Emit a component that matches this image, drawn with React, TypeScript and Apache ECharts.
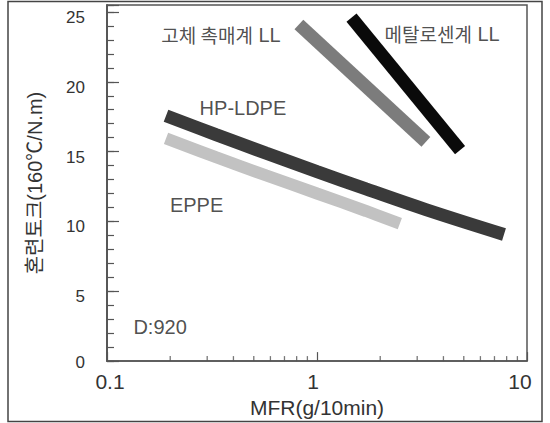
import React, { useEffect, useRef } from 'react';
import * as echarts from 'echarts';

// ---- data ----
const xMajorTicks = [0.1, 1, 10];
const xMinorTicks = [0.2, 0.3, 0.4, 0.5, 0.6, 0.7, 0.8, 0.9, 2, 3, 4, 5, 6, 7, 8, 9];
const yLabelStep = 5;
const yMinorStep = 1;

const hpLdpe = [[0.191, 17.57], [0.33, 16.22], [0.572, 14.89], [1.0, 13.57], [1.71, 12.33], [3.3, 10.85], [7.77, 9.07]];
const eppe = [[0.191, 15.95], [0.33, 14.6], [0.572, 13.3], [1.0, 12.0], [1.71, 10.75], [2.48, 9.85]];
const solidCatalystLL = [[0.82, 24.1], [3.3, 15.7]];
const metalloceneLL = [[1.46, 24.6], [4.8, 15.1]];

const annotationTexts = ['{k|고체 촉매계} {l|LL}', '{k|메탈로센계} {l|LL}', 'HP-LDPE', 'EPPE', 'D:920'];
const annotationX = [0.349, 3.94, 0.444, 0.267, 0.179];
const annotationY = [23.36, 23.43, 18.14, 11.21, 2.43];

const FONT = '"Liberation Sans Narrow", "Liberation Sans", Arial, "Noto Sans CJK KR", sans-serif';
const KFONT = '"Noto Sans CJK KR", sans-serif';

const xLab = { fontSize: 21, color: '#333', fontFamily: FONT };
const yLab = { fontSize: 17, color: '#333', fontFamily: FONT };

export default function App() {
  const ref = useRef<HTMLDivElement>(null);
  useEffect(() => {
    const chart = echarts.init(ref.current!, undefined, { renderer: 'svg' });
    const yBase = {
      type: 'value',
      min: 0,
      max: 25.5,
      position: 'left',
      offset: 0,
      splitLine: { show: false },
      axisLine: { show: true, lineStyle: { color: '#555', width: 1.5 } },
    };
    const option: any = {
      animation: false,
      backgroundColor: '#fff',
      grid: { left: 107, right: 23, top: 5, bottom: 60, show: true, borderColor: '#555', borderWidth: 1.5, backgroundColor: 'transparent' },
      graphic: [
        { type: 'rect', shape: { x: 8, y: 1.5, width: 534, height: 420 }, style: { fill: 'none', stroke: '#444', lineWidth: 1.5 }, silent: true, z: -1 },
      ],
      xAxis: {
        type: 'log',
        logBase: 10,
        min: 0.1,
        max: 10,
        splitLine: { show: false },
        axisLine: { show: true, lineStyle: { color: '#555', width: 1.5 } },
        axisTick: { inside: true, length: 9, lineStyle: { color: '#555', width: 1.2 } },
        axisLabel: {
          margin: 10,
          ...xLab,
          formatter: (v: number) => {
            if (Math.abs(v - 0.1) < 1e-9) return '{a|0.1}';
            if (Math.abs(v - 1) < 1e-9) return '{b|1}';
            if (Math.abs(v - 10) < 1e-9) return '{c|10}';
            return '';
          },
          rich: {
            a: { ...xLab, padding: [0, 0, 0, 6] },
            b: { ...xLab, padding: [0, 8, 0, 0] },
            c: { ...xLab, padding: [0, 14, 0, 0] },
          },
        },
        name: 'MFR(g/10min)',
        nameLocation: 'middle',
        nameGap: 35,
        nameTextStyle: { fontSize: 21, color: '#333', fontFamily: FONT },
      },
      yAxis: [
        {
          ...yBase,
          interval: yLabelStep,
          axisTick: { inside: true, length: 12, lineStyle: { color: '#555', width: 1.2 } },
          axisLabel: {
            margin: 22,
            ...yLab,
            formatter: (v: number) => (v % yLabelStep === 0 ? (v === 0 ? '{z|0}' : '{s|' + v + '}') : ''),
            rich: {
              z: { ...yLab, padding: [2, 0, 0, 0] },
              s: { ...yLab, padding: [11, 0, 0, 0] },
            },
          },
          name: '혼련토크(160℃/N.m)',
          nameLocation: 'middle',
          nameGap: 62,
          nameTextStyle: { fontSize: 20, color: '#333', fontFamily: FONT },
        },
        {
          ...yBase,
          interval: yMinorStep,
          axisTick: { inside: true, length: 7, lineStyle: { color: '#555', width: 1.2 } },
          axisLabel: { show: false },
        },
      ],
      series: [
        {
          type: 'line', data: eppe, showSymbol: false, symbol: 'none', smooth: 0.4,
          lineStyle: { color: '#c2c2c2', width: 12, cap: 'butt' }, silent: true,
        },
        {
          type: 'line', data: hpLdpe, showSymbol: false, symbol: 'none', smooth: 0.4,
          lineStyle: { color: '#3a3a3a', width: 13, cap: 'butt' }, silent: true,
        },
        {
          type: 'line', data: solidCatalystLL, showSymbol: false, symbol: 'none',
          lineStyle: { color: '#7c7c7c', width: 13, cap: 'butt' }, silent: true,
        },
        {
          type: 'line', data: metalloceneLL, showSymbol: false, symbol: 'none',
          lineStyle: { color: '#0a0a0a', width: 13, cap: 'butt' }, silent: true,
        },
        {
          type: 'scatter',
          data: xMinorTicks.map((v) => [v, 0]),
          symbol: 'rect',
          symbolSize: [1.3, 5],
          symbolOffset: [0, -2.5],
          itemStyle: { color: '#555' },
          silent: true,
          z: 5,
        },
        {
          type: 'scatter',
          data: annotationTexts.map((t, i) => ({ value: [annotationX[i], annotationY[i]], name: t })),
          symbolSize: 1,
          itemStyle: { color: 'transparent' },
          silent: true,
          label: {
            show: true,
            position: 'inside',
            formatter: (p: any) => p.name,
            fontSize: 20,
            color: '#222',
            fontFamily: FONT,
            rich: {
              k: { fontSize: 19, color: '#222', fontFamily: KFONT },
              l: { fontSize: 20, color: '#222', fontFamily: FONT },
            },
          },
        },
      ],
    };
    chart.setOption(option);
    return () => chart.dispose();
  }, []);
  return <div ref={ref} style={{ position: 'absolute', left: 0, top: 0, width: 550, height: 423 }} />;
}
